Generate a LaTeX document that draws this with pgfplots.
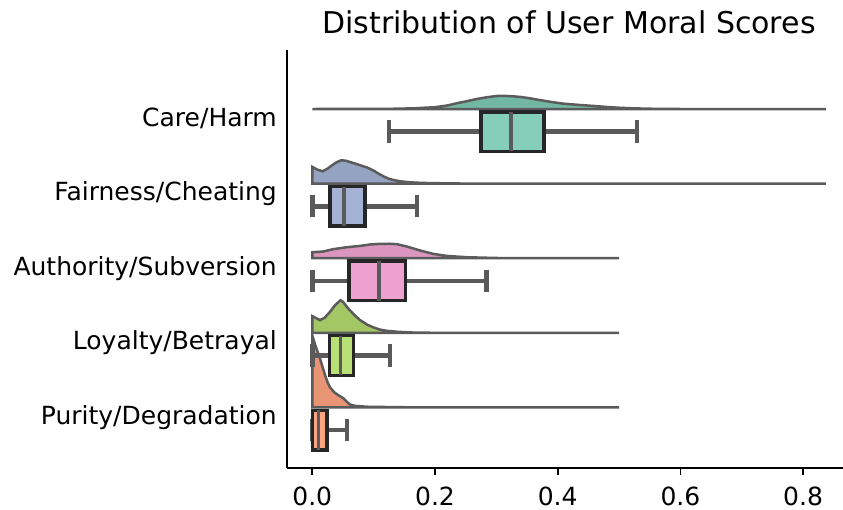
\documentclass[border=0pt]{standalone}
\usepackage{fontspec}
\setmainfont{DejaVu Sans}
\usepackage{pgfplots}
\pgfplotsset{compat=1.18}
\usepgfplotslibrary{statistics}
\definecolor{careV}{HTML}{72B7A1}
\definecolor{careB}{HTML}{85CEB7}
\definecolor{fairV}{HTML}{95A3C3}
\definecolor{fairB}{HTML}{A4B3D5}
\definecolor{authV}{HTML}{DB96C0}
\definecolor{authB}{HTML}{ECA1CF}
\definecolor{loyV}{HTML}{A2C764}
\definecolor{loyB}{HTML}{B8E076}
\definecolor{purV}{HTML}{E99575}
\definecolor{purB}{HTML}{FCA481}
\definecolor{vedge}{HTML}{5B5B5B}
\definecolor{bedge}{HTML}{262626}
\definecolor{whisk}{HTML}{5A5A5A}
\begin{document}
\begin{tikzpicture}
\begin{axis}[
  scale only axis, width=556pt, height=418pt,
  xmin=-0.0412, xmax=0.865, ymin=-0.791, ymax=4.812, y dir=reverse,
  axis x line*=bottom, axis y line*=left,
  axis line style={line width=1.8pt, black},
  xtick={0,0.2,0.4,0.6,0.8},
  /pgf/number format/assume math mode=true,
  xticklabel style={/pgf/number format/.cd, fixed, fixed zerofill, precision=1, /tikz/.cd, inner sep=0pt, yshift=-11.7pt},
  xtick align=outside, major tick length=7pt,
  xtick style={line width=1.6pt, black},
  ytick={0.228,1.228,2.228,3.228,4.228},
  yticklabels={Care/Harm, Fairness/Cheating, Authority/Subversion, Loyalty/Betrayal, Purity/Degradation},
  ytick style={draw=none},
  yticklabel style={anchor=base east, inner sep=0pt, xshift=-10pt},
  tick label style={font=\fontsize{25}{30}\selectfont},
  boxplot/draw direction=x,
  boxplot/box extend=0.53,
  boxplot/whisker extend=0.30,
]
% half violins
\addplot[fill=careV, draw=vedge, line width=2.5pt] coordinates {
(0,0) (0.10,-0.001) (0.13,-0.003) (0.165,-0.009) (0.20,-0.024) (0.22,-0.047) (0.235,-0.076) (0.25,-0.101) (0.268,-0.134) (0.285,-0.158) (0.30,-0.174) (0.31,-0.177) (0.327,-0.170) (0.34,-0.161) (0.355,-0.143) (0.37,-0.121) (0.393,-0.090) (0.41,-0.071) (0.436,-0.054) (0.46,-0.040) (0.48,-0.027) (0.50,-0.017) (0.523,-0.009) (0.56,-0.002) (0.60,0) (0.837,0)
} -- cycle;
\addplot[fill=fairV, draw=vedge, line width=2.5pt] coordinates {
(0,1) (0,0.776) (0.008,0.812) (0.017,0.835) (0.025,0.799) (0.032,0.755) (0.04,0.712) (0.047,0.688) (0.054,0.692) (0.061,0.709) (0.075,0.745) (0.091,0.790) (0.1,0.826) (0.108,0.866) (0.116,0.902) (0.124,0.933) (0.133,0.953) (0.143,0.969) (0.16,0.983) (0.18,0.991) (0.22,0.997) (0.26,1) (0.837,1)
} -- cycle;
\addplot[fill=authV, draw=vedge, line width=2.5pt] coordinates {
(0,2) (0,1.920) (0.018,1.910) (0.034,1.879) (0.056,1.853) (0.078,1.835) (0.094,1.816) (0.110,1.808) (0.125,1.806) (0.138,1.812) (0.154,1.843) (0.165,1.870) (0.176,1.897) (0.197,1.942) (0.219,1.969) (0.252,1.987) (0.3,1.997) (0.34,2) (0.5,2)
} -- cycle;
\addplot[fill=loyV, draw=vedge, line width=2.5pt] coordinates {
(0,3) (0,2.776) (0.0125,2.830) (0.02,2.799) (0.029,2.718) (0.037,2.631) (0.046,2.564) (0.05,2.584) (0.055,2.638) (0.061,2.696) (0.07,2.772) (0.078,2.830) (0.09,2.893) (0.1,2.929) (0.11,2.956) (0.121,2.973) (0.14,2.987) (0.164,2.996) (0.2,3) (0.5,3)
} -- cycle;
\addplot[fill=purV, draw=vedge, line width=2.5pt] coordinates {
(0,4) (0,3.035) (0.005,3.169) (0.0125,3.343) (0.017,3.464) (0.021,3.571) (0.025,3.665) (0.029,3.732) (0.036,3.799) (0.043,3.839) (0.051,3.879) (0.056,3.920) (0.061,3.960) (0.07,3.980) (0.09,3.991) (0.14,3.997) (0.18,4) (0.5,4)
} -- cycle;
% boxes
\pgfplotsset{
  bstyle/.style={
    boxplot/every box/.style={draw=bedge, line width=3.5pt, fill=#1},
    boxplot/every whisker/.style={draw=whisk, line width=4.5pt},
    boxplot/every median/.style={draw=whisk, line width=3.5pt},
  }
}
\addplot[bstyle=careB, boxplot prepared={lower whisker=0.125, lower quartile=0.275, median=0.324, upper quartile=0.378, upper whisker=0.529}, boxplot/draw position=0.304] coordinates {};
\addplot[bstyle=fairB, boxplot prepared={lower whisker=0.0, lower quartile=0.029, median=0.052, upper quartile=0.086, upper whisker=0.171}, boxplot/draw position=1.304] coordinates {};
\addplot[bstyle=authB, boxplot prepared={lower whisker=0.0, lower quartile=0.060, median=0.109, upper quartile=0.152, upper whisker=0.284}, boxplot/draw position=2.304] coordinates {};
\addplot[bstyle=loyB, boxplot prepared={lower whisker=0.0, lower quartile=0.028, median=0.046, upper quartile=0.067, upper whisker=0.127}, boxplot/draw position=3.304] coordinates {};
\addplot[bstyle=purB, boxplot prepared={lower whisker=0.0, lower quartile=0.0, median=0.010, upper quartile=0.024, upper whisker=0.057}, boxplot/draw position=4.304] coordinates {};
\end{axis}
\node[anchor=base, font=\fontsize{30}{36}\selectfont, inner sep=0pt] at (282pt,434.7pt) {Distribution of User Moral Scores};
\pgfresetboundingbox
\path[use as bounding box] (-287pt,-42pt) rectangle (556pt,468pt);
\end{tikzpicture}
\end{document}
